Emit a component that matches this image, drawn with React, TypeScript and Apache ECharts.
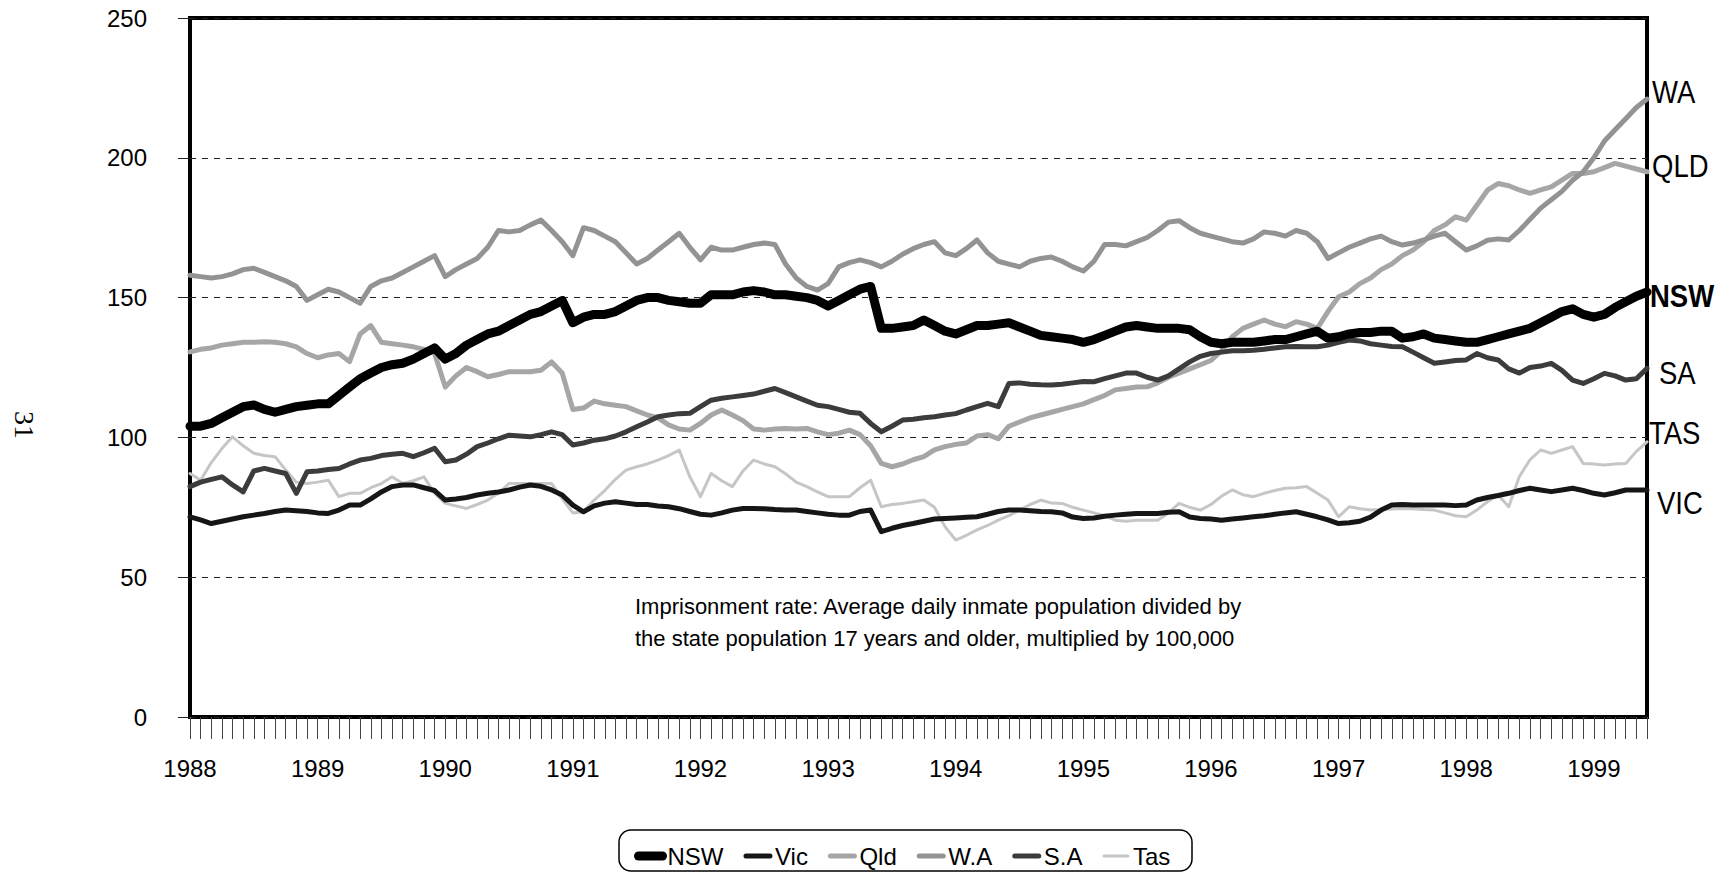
import React, { useEffect, useRef } from 'react';
import * as echarts from 'echarts';

const years = [1988, 1989, 1990, 1991, 1992, 1993, 1994, 1995, 1996, 1997, 1998, 1999];
const monthCount = 138;
const categories: string[] = [];
years.forEach((y) => {
  for (let m = 1; m <= 12; m++) categories.push(`${y}-${String(m).padStart(2, '0')}`);
});
const months = categories.slice(0, monthCount);

const yTicks = [0, 50, 100, 150, 200, 250];

const nsw = [104,104,105,107,109,111,111.6,110,109,110,111,111.5,
112,112,115,118,121,123,125,126,126.5,128,130,132,
128,130,133,135,137,138,140,142,144,145,147,149,
141,143,144,144,145,147,149,150,150,149,148.5,148,
148,151,151,151,152,152.5,152,151,151,150.5,150,149,
147,149,151,153,154,139,139,139.5,140,142,140,138,
137,138.5,140,140,140.5,141,139.5,138,136.5,136,135.5,135,
134,135,136.5,138,139.5,140,139.5,139,139,139,138.5,136,
134,133.5,134,134,134,134.5,135,135,136,137,138,135.5,
136,137,137.5,137.5,138,138,135.5,136,137,135.5,135,134.5,
134,134,135,136,137,138,139,141,143,145,146,144,
143,144,146.5,148.5,150.5,152];

const vic = [71.6,70.5,69.2,70,70.8,71.6,72.2,72.8,73.5,74,73.8,73.5,
73,72.8,74,75.8,75.8,78,80.5,82.4,83,83,82,81,
77.6,78,78.5,79.4,80,80.5,81.2,82.2,83,82.5,81.2,79.4,
75.8,73.4,75.5,76.5,77,76.5,76,76,75.5,75.2,74.5,73.5,
72.5,72.2,73,74,74.6,74.6,74.5,74.2,74,74,73.5,73,
72.5,72.2,72.2,73.5,74,66.3,67.5,68.5,69.2,70,70.8,71,
71.2,71.4,71.6,72.5,73.5,74,74,73.8,73.5,73.4,73,71.5,
71,71.2,71.8,72.2,72.5,72.8,72.8,72.8,73.2,73.4,71.5,71,
70.8,70.4,70.8,71.2,71.6,72,72.5,73,73.4,72.5,71.6,70.5,
69.2,69.5,70,71.5,74,75.8,76,75.8,75.8,75.8,75.8,75.6,
75.8,77.6,78.5,79.2,80,81,81.8,81.2,80.6,81.2,81.8,81,
80,79.4,80.2,81.2,81.2,81.2];

const qld = [130.6,131.5,132,133,133.5,134,134,134.2,134,133.5,132.4,130,
128.5,129.5,130,127.1,137,140,134,133.5,133,132.4,131.5,130,
118,122,125,123.5,121.7,122.5,123.5,123.5,123.5,124,127,123,
110,110.5,113,112,111.5,111,109.5,108,107,104.5,103,102.6,
105,108,109.8,108,106,103,102.6,103,103.2,103,103.2,102,
101,101.5,102.6,101,97,90.7,89.5,90.5,92,93.1,95.5,96.7,
97.5,98,100.5,101,99.5,104,105.5,107,108,109,110,111,
112,113.5,115,117,117.5,118,118.1,119.5,121.5,123,124.5,126,
127.5,131,136,139,140.5,142,140.5,139.6,141.4,140.5,139,145,
150.3,152,155,157,160,162,165,167,170,174,176,178.9,
177.7,183,188.4,190.8,190,188.5,187.3,188.5,189.6,192,194.4,194.4,
195,196.5,198,197,196,195];

const wa = [158,157.5,157,157.5,158.5,160,160.5,159,157.5,156,154,149,
151,153,152,150,148,154,156,157,159,161,163,165,
157.5,160,162,164,168,174,173.5,174,176,177.7,174,170,
165,175,174,172,170,166,162,164,167,170,173,168,
163.5,168,167,167,168,169,169.5,169,162,157,154,152.7,
155,161,162.5,163.5,162.5,161,163,165.5,167.5,169,170,166,
165,167.5,170.6,166,163,162,161,163,164,164.5,163,161,
159.5,163,169,169,168.5,170,171.5,174,177,177.5,175,173,
172,171,170,169.5,171,173.5,173,172,174,173,170,164,
166,168,169.5,171,172,170,168.8,169.5,170.6,172,173,170,
167,168.5,170.5,171,170.6,174,178,182,185,188,192,195,
200,206,210,214,218,221];

const sa = [82.4,84,85,85.9,83,80.5,88,88.9,88,87.1,80,87.7,
88,88.5,88.9,90.5,91.9,92.5,93.5,94,94.3,93.1,94.5,96.1,
91.3,91.9,94,96.7,98,99.5,100.8,100.5,100.2,101,102,101,
97.3,98,99,99.5,100.5,102,103.8,105.5,107.4,108,108.5,108.6,
111,113.3,114,114.5,115,115.5,116.5,117.5,116,114.5,113,111.5,
111,110,109,108.6,105,102,104,106.2,106.5,107,107.4,108,
108.5,109.8,111,112.2,111,119.3,119.5,119,118.8,118.7,119,119.5,
120,119.9,121,122,123,123,121.5,120.5,122,124.5,127,129,
130,130.5,131,131,131.2,131.5,132,132.4,132.5,132.4,132.4,133,
134,134.8,134.5,133.5,133,132.5,132.4,130.5,128.5,126.5,127,127.5,
127.7,130,128.5,127.7,124.5,123,125,125.5,126.5,124,120.5,119.3,
121,122.9,122,120.5,121,124.7];

const tas = [87.1,84.7,91,96,100.2,97,94.3,93.5,93.1,88.3,84,83.5,
84,84.7,78.8,80,80,82,83.5,85.9,83.5,84.5,85.9,80,
76.4,75.5,74.6,76,77.6,80,83.5,83.5,83.5,83.5,83.5,78,
73,73.4,77.6,81,85,88.3,89.5,90.5,91.9,93.5,95.5,85.9,
78.8,87.1,84.5,82.4,88,91.9,90.5,89.5,87,84,82.4,80.5,
78.8,78.8,78.8,82,84.7,75.2,76,76.4,77,77.6,75,68,
63.3,65,66.9,68.5,70.4,72,74,76,77.6,76.5,76.4,75,
74,73,72,70.4,70,70.4,70.4,70.4,73,76.4,75,74,
76,79,81.2,79.5,78.8,80,81,81.8,82,82.4,80,77.6,
71.6,75.2,74.5,74,74.2,74.4,74.6,74.5,74.2,74,73,72,
71.6,74,77,79.4,75.2,86,92,95.5,94.3,95.5,96.7,90.7,
90.5,90.1,90.5,90.7,95,98.4];

const seriesNames = ['NSW', 'Vic', 'Qld', 'W.A', 'S.A', 'Tas'];
const endLabels = ['WA', 'QLD', 'NSW', 'SA', 'TAS', 'VIC'];
const note = 'Imprisonment rate: Average daily inmate population divided by\nthe state population 17 years and older, multiplied by 100,000';

const SANS = '"Liberation Sans Narrow", "Arial Narrow", "Liberation Sans", Arial, sans-serif';

export default function App() {
  const ref = useRef<HTMLDivElement>(null);
  useEffect(() => {
    document.body.style.margin = '0';
    if (!ref.current) return;
    const chart = echarts.init(ref.current, undefined, { renderer: 'svg' });
    const mk = (name: string, data: number[], color: string, width: number, z: number) => ({
      name,
      type: 'line',
      data,
      symbol: 'none',
      showSymbol: false,
      smooth: false,
      z,
      lineStyle: { color, width, join: 'round', cap: 'round' },
      itemStyle: { color },
    });
    const labelPos: Record<string, [number, number, boolean]> = {
      WA: [1652, 92, false],
      QLD: [1652, 166, false],
      NSW: [1650, 296, true],
      SA: [1659, 373, false],
      TAS: [1649, 433, false],
      VIC: [1657, 503, false],
    };
    const option: any = {
      animation: false,
      backgroundColor: '#fff',
      grid: {
        left: 190, top: 18, right: 79, bottom: 156,
        show: true, borderColor: '#000', borderWidth: 4, backgroundColor: 'transparent',
      },
      xAxis: {
        type: 'category',
        data: months,
        boundaryGap: false,
        axisLine: { show: false },
        axisTick: { show: true, interval: 0, length: 22, lineStyle: { color: '#444', width: 1 } },
        axisLabel: {
          interval: (idx: number) => idx % 12 === 0,
          formatter: (v: string) => v.slice(0, 4),
          margin: 39,
          color: '#000',
          fontSize: 24,
          fontFamily: SANS,
        },
        splitLine: { show: false },
      },
      yAxis: {
        type: 'value',
        min: yTicks[0],
        max: yTicks[yTicks.length - 1],
        interval: 50,
        axisLine: { show: false },
        axisTick: { show: true, length: 12, lineStyle: { color: '#222', width: 1 } },
        axisLabel: { margin: 43, color: '#000', fontSize: 24, fontFamily: SANS },
        splitLine: { show: true, lineStyle: { color: '#222', width: 1, type: [6, 6] } },
      },
      legend: {
        data: seriesNames,
        left: 629,
        top: 839,
        itemWidth: 24,
        itemHeight: 12,
        itemGap: 20,
        lineStyle: { width: 'inherit' },
        itemStyle: { opacity: 0 },
        textStyle: { fontSize: 24, fontFamily: SANS, color: '#000', padding: [0, 0, 0, 0] },
      },
      series: [
        mk('NSW', nsw, '#000000', 9, 10),
        mk('Vic', vic, '#161616', 5, 4),
        mk('Qld', qld, '#a6a6a6', 5, 3),
        mk('W.A', wa, '#939393', 5, 3),
        mk('S.A', sa, '#3c3c3c', 5, 4),
        mk('Tas', tas, '#c6c6c6', 3, 2),
      ],
      graphic: [
        ...endLabels.map((t) => ({
          type: 'text',
          x: labelPos[t][0],
          y: labelPos[t][1],
          scaleX: 0.86,
          z: 20,
          style: {
            text: t,
            fontSize: 32,
            fontWeight: labelPos[t][2] ? 'bold' : 'normal',
            fontFamily: SANS,
            fill: '#000',
            verticalAlign: 'middle',
            align: 'left',
          },
        })),
        {
          type: 'text',
          x: 635,
          y: 590,
          z: 20,
          style: {
            text: note,
            fontSize: 22,
            lineHeight: 32,
            fontFamily: SANS,
            fill: '#000',
            align: 'left',
            verticalAlign: 'top',
          },
        },
        {
          type: 'text',
          x: 24,
          y: 425,
          rotation: -Math.PI / 2,
          style: {
            text: '31',
            fontSize: 28,
            fontFamily: '"Liberation Serif", "DejaVu Serif", serif',
            fill: '#000',
            align: 'center',
            verticalAlign: 'middle',
          },
        },
        {
          type: 'rect',
          shape: { x: 619, y: 830, width: 573, height: 41, r: 12 },
          style: { fill: 'none', stroke: '#000', lineWidth: 1.5 },
          z: 1,
        },
      ],
    };
    chart.setOption(option);
    return () => chart.dispose();
  }, []);
  return <div ref={ref} style={{ width: 1726, height: 873 }} />;
}
